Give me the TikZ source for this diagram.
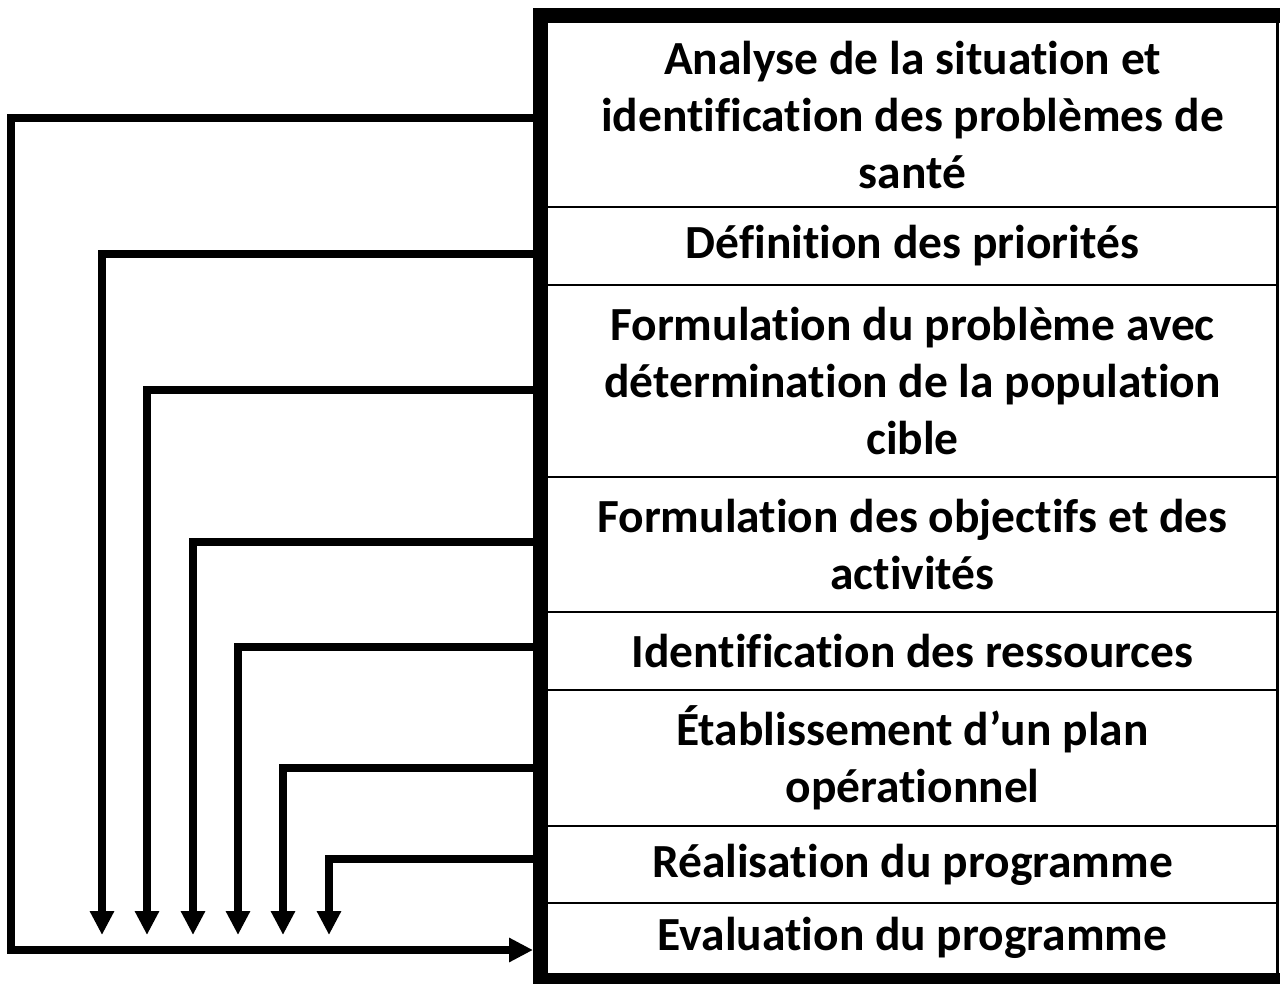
\documentclass[tikz,border=0pt]{standalone}
\usepackage{fontspec}
\setmainfont{Carlito}[Ligatures={NoCommon,NoRare,NoContextual,NoRequired}]
\usetikzlibrary{arrows.meta}
\newcommand\nlg{\kern0pt\relax}
\begin{document}
\begin{tikzpicture}[x=1pt,y=-1pt,
  conn/.style={line width=8pt},
  arr/.style={conn,-{Triangle[width=23pt,length=24pt]}},
  rowbox/.style={draw=none, minimum width=729pt, inner sep=0pt, align=center,
    font=\bfseries\fontsize{47.5}{57}\selectfont},
  divider/.style={line width=2.5pt},
  border/.style={fill=black}]
\useasboundingbox (0,0) rectangle (1280,984);
% rows
\node[rowbox, minimum height=184pt] (r1) at (912.5,115) {Analyse de la situat\nlg ion et\\identif\nlg icat\nlg ion des problèmes de\\santé};
\node[rowbox, minimum height=78pt] (r2) at (912.5,246) {Déf\nlg init\nlg ion des priorités};
\node[rowbox, minimum height=192pt] (r3) at (912.5,381) {Formulat\nlg ion du problème avec\\déterminat\nlg ion de la populat\nlg ion\\cible};
\node[rowbox, minimum height=135pt] (r4) at (912.5,544.5) {Formulat\nlg ion des object\nlg if\nlg s et des\\act\nlg ivités};
\node[rowbox, minimum height=78pt] (r5) at (912.5,651) {Identif\nlg icat\nlg ion des ressources};
\node[rowbox, minimum height=136pt] (r6) at (912.5,758) {Établissement d’un plan\\opérat\nlg ionnel};
\node[rowbox, minimum height=77pt] (r7) at (912.5,864.5) {Réalisat\nlg ion du programme};
\node[rowbox, minimum height=70pt] (r8) at (912.5,938) {Evaluat\nlg ion du programme};
% dividers
\foreach \i in {1,...,7} \draw[divider] (r\i.south west) -- (r\i.south east);
% frame
\fill[border] (533,8) rectangle (548,984);
\fill[border] (533,8) rectangle (1280,23);
\fill[border] (533,973) rectangle (1280,984);
\draw[line width=2.5pt] (1277.5,23) -- (1277.5,973);
% connector points
\coordinate (p1) at (540,118.5);
\coordinate (p2) at (540,254.5);
\coordinate (p3) at (540,390);
\coordinate (p4) at (540,542);
\coordinate (p5) at (540,647);
\coordinate (p6) at (540,768);
\coordinate (p7) at (540,859);
\coordinate (k1) at (11,118.5);
\coordinate (k2) at (11,950);
\coordinate (e8) at (533,950);
\coordinate (t2) at (102,935);
\coordinate (t3) at (147,935);
\coordinate (t4) at (193,935);
\coordinate (t5) at (238,935);
\coordinate (t6) at (283,935);
\coordinate (t7) at (329,935);
\draw[arr] (p1) -- (k1) -- (k2) -- (e8);
\draw[arr] (p2) -| (t2);
\draw[arr] (p3) -| (t3);
\draw[arr] (p4) -| (t4);
\draw[arr] (p5) -| (t5);
\draw[arr] (p6) -| (t6);
\draw[arr] (p7) -| (t7);
\end{tikzpicture}
\end{document}
